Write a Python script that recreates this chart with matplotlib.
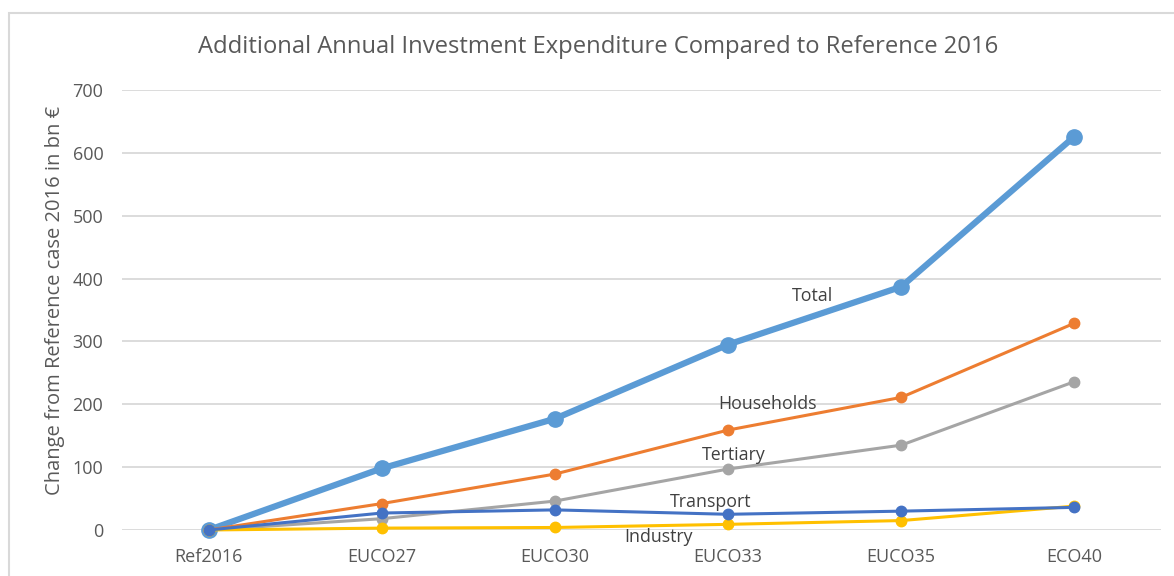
import matplotlib.pyplot as plt
from matplotlib.patches import Rectangle

plt.rcParams['font.family'] = ['Open Sans', 'DejaVu Sans']

scenarios = ["Ref2016", "EUCO27", "EUCO30", "EUCO33", "EUCO35", "ECO40"]
total = [0, 98, 177, 295, 387, 626]
households = [0, 42, 89, 159, 211, 329]
tertiary = [0, 18, 46, 97, 135, 236]
industry = [0, 3, 4, 9, 15, 38]
transport = [0, 27, 32, 25, 30, 36]

# label text, x position, y position (data coords)
labels = [
    ("Total", 3.49, 372),
    ("Households", 3.23, 200),
    ("Tertiary", 3.03, 120),
    ("Transport", 2.9, 45),
    ("Industry", 2.6, -11),
]

fig = plt.figure(figsize=(11.74, 5.76), dpi=100)
# outer chart border, runs off the right and bottom of the image
fig.patches.append(Rectangle((9 / 1174, -0.05), 1.2, 1 - 13 / 576 + 0.05,
                             transform=fig.transFigure, fill=False,
                             edgecolor="#d9d9d9", linewidth=1.5))

ax = fig.add_axes([122 / 1174, 1 - 530 / 576, (1161 - 122) / 1174, 440 / 576])
x = range(len(scenarios))

ax.plot(x, total, "-o", color="#5B9BD5", lw=4.5, ms=11, clip_on=False, zorder=3)
ax.plot(x, households, "-o", color="#ED7D31", lw=2.2, ms=7.5, clip_on=False, zorder=4)
ax.plot(x, tertiary, "-o", color="#A5A5A5", lw=2.2, ms=7.5, clip_on=False, zorder=5)
ax.plot(x, industry, "-o", color="#FFC000", lw=2.2, ms=7.5, clip_on=False, zorder=6)
ax.plot(x, transport, "-o", color="#4472C4", lw=2.2, ms=7.5, clip_on=False, zorder=7)

for txt, lx, ly in labels:
    ax.text(lx, ly, txt, fontsize=12.8, color="#404040", ha="center", va="center", zorder=8)

ax.set_xlim(-0.5, 5.5)
ax.set_ylim(0, 700)
ax.set_yticks(range(0, 701, 100))
ax.set_xticks(list(x))
ax.set_xticklabels(scenarios)
ax.grid(axis="y", color="#d9d9d9", lw=1.3)
ax.set_axisbelow(True)
for s in ax.spines.values():
    s.set_visible(False)
ax.tick_params(length=0, colors="#595959", labelsize=13)
ax.tick_params(axis="y", pad=13.5)
ax.tick_params(axis="x", pad=13)

ax.set_ylabel("Change from Reference case 2016 in bn €", fontsize=14.5, color="#595959")
ax.yaxis.set_label_coords(-0.055, 0.522)
fig.text(598 / 1174, 1 - 47 / 576, "Additional Annual Investment Expenditure Compared to Reference 2016",
         fontsize=17.1, color="#595959", ha="center", va="center")

fig.savefig("out.png", dpi=100)
